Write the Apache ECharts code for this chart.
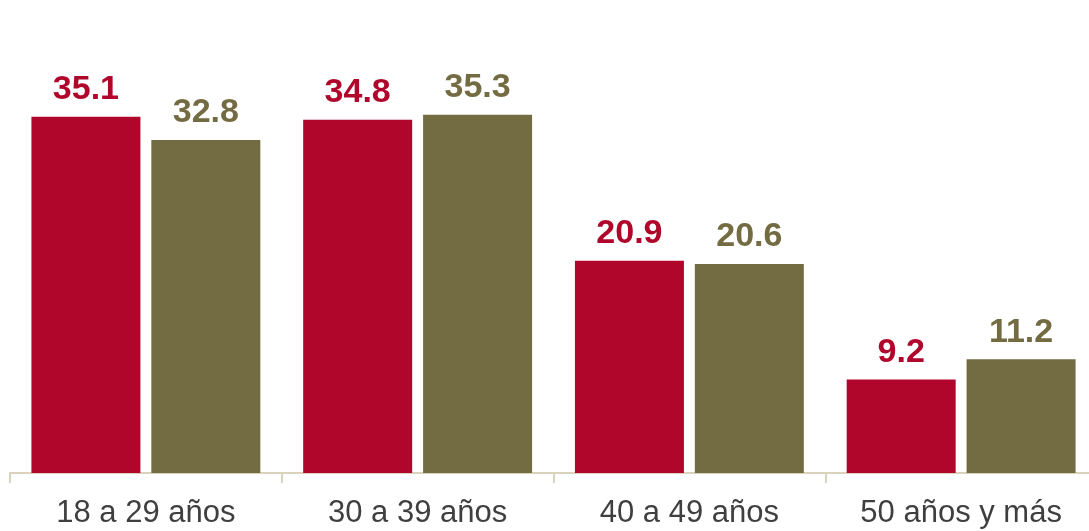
<!DOCTYPE html>
<html>
<head>
<meta charset="utf-8">
<script src="https://cdn.jsdelivr.net/npm/echarts@6/dist/echarts.min.js"></script>
<style>
  html, body { margin: 0; padding: 0; background: #fff; overflow: hidden; }
  /* the plot runs a little past the right edge of the window */
  #chart { width: 1097px; height: 531px; }
</style>
</head>
<body>
<div id="chart"></div>
<script>
// age groups
const categories = ['18 a 29 años', '30 a 39 años', '40 a 49 años', '50 años y más']
const serieA = [35.1, 34.8, 20.9, 9.2]
const serieB = [32.8, 35.3, 20.6, 11.2]

const red = '#b1062c'
const olive = '#736b41'

const myChart = echarts.init(document.getElementById('chart'))

const option = {
  backgroundColor: '#ffffff',
  animation: false,
  textStyle: { fontFamily: '"Liberation Sans", Arial, sans-serif' },
  grid: {
    left: 10,
    right: 0,
    top: 67,
    bottom: 58
  },
  xAxis: {
    type: 'category',
    data: categories,
    axisLine: { lineStyle: { color: '#d9d3bd', width: 2 } },
    axisTick: { show: true, length: 10, lineStyle: { color: '#d9d3bd', width: 2 } },
    axisLabel: {
      color: '#3f3f3f',
      fontSize: 31,
      margin: 25
    }
  },
  yAxis: {
    type: 'value',
    min: 0,
    max: 40,
    show: false,
    splitLine: { show: false }
  },
  series: [
    {
      name: 'A',
      type: 'bar',
      data: serieA,
      barWidth: 109,
      barGap: '10%',
      itemStyle: { color: red },
      label: {
        show: true,
        position: 'top',
        distance: 10,
        color: red,
        fontSize: 34,
        fontWeight: 'bold',
        formatter: p => p.value.toFixed(1)
      }
    },
    {
      name: 'B',
      type: 'bar',
      data: serieB,
      barWidth: 109,
      barGap: '10%',
      itemStyle: { color: olive },
      label: {
        show: true,
        position: 'top',
        distance: 10,
        color: olive,
        fontSize: 34,
        fontWeight: 'bold',
        formatter: p => p.value.toFixed(1)
      }
    }
  ]
}

myChart.setOption(option)
</script>
</body>
</html>
